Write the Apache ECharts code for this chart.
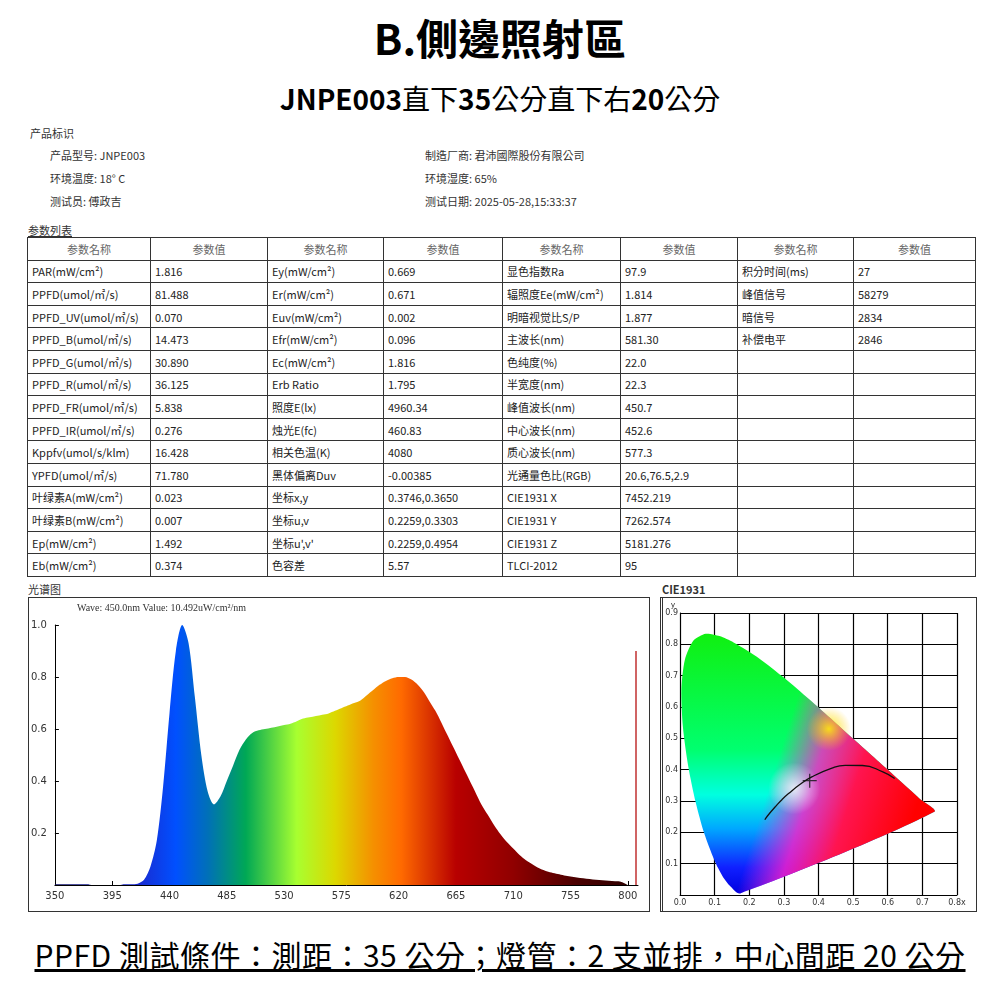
<!DOCTYPE html>
<html><head><meta charset="utf-8">
<script src="https://cdn.jsdelivr.net/npm/echarts@6/dist/echarts.min.js"></script>
<style>
body{margin:0;width:1000px;height:1000px;background:#fff;font-family:"Noto Sans CJK TC","Noto Sans",sans-serif;position:relative;overflow:hidden}
.a{position:absolute;white-space:nowrap}
.s{font-size:11px;color:#333}
table{position:absolute;left:27px;top:237px;border-collapse:collapse;font-size:11px;color:#222}
td{border:1px solid #333;height:22.6px;padding:0 4px;box-sizing:border-box}
tr.h td{text-align:center;color:#666}
</style></head><body>
<div class="a" style="left:0;width:1000px;top:6px;text-align:center;font-size:42px;font-weight:bold">B.側邊照射區</div>
<div class="a" style="left:0;width:1000px;top:78px;text-align:center;font-size:28px"><b>JNPE003</b>直下<b>35</b>公分直下右<b>20</b>公分</div>
<div class="a s" style="left:30px;top:125px">产品标识</div>
<div class="a s" style="left:50px;top:147px">产品型号: JNPE003</div>
<div class="a s" style="left:50px;top:170px">环境温度: 18° C</div>
<div class="a s" style="left:50px;top:193px">测试员: 傅政吉</div>
<div class="a s" style="left:425px;top:147px">制造厂商: 君沛國際股份有限公司</div>
<div class="a s" style="left:425px;top:170px">环境湿度: 65%</div>
<div class="a s" style="left:425px;top:193px">测试日期: 2025-05-28,15:33:37</div>
<div class="a s" style="left:28px;top:222px;text-decoration:underline">参数列表</div>
<table id="tb"></table>
<div class="a s" style="left:28px;top:581px">光谱图</div>
<div class="a s" style="left:662px;top:581px;font-weight:bold">CIE1931</div>
<div class="a" style="left:28px;top:597px;width:620px;height:313px;border:1px solid #333"></div>
<div class="a" style="left:660px;top:597px;width:313px;height:313px;border:1px solid #333;border-left:3px double #333"></div>
<div id="sp" class="a" style="left:28px;top:597px;width:622px;height:315px"></div>
<div id="cie" class="a" style="left:662px;top:597px;width:313px;height:315px"></div>
<div class="a" style="left:0;width:1000px;top:932px;text-align:center;font-size:30px;letter-spacing:0.5px;text-decoration:underline">PPFD 測試條件：測距：35 公分；燈管：2 支並排，中心間距 20 公分</div>
<script>
var colA = ['PAR(mW/cm²)','PPFD(umol/㎡/s)','PPFD_UV(umol/㎡/s)','PPFD_B(umol/㎡/s)','PPFD_G(umol/㎡/s)','PPFD_R(umol/㎡/s)','PPFD_FR(umol/㎡/s)','PPFD_IR(umol/㎡/s)','Kppfv(umol/s/klm)','YPFD(umol/㎡/s)','叶绿素A(mW/cm²)','叶绿素B(mW/cm²)','Ep(mW/cm²)','Eb(mW/cm²)'];
var valA = ['1.816','81.488','0.070','14.473','30.890','36.125','5.838','0.276','16.428','71.780','0.023','0.007','1.492','0.374'];
var colB = ['Ey(mW/cm²)','Er(mW/cm²)','Euv(mW/cm²)','Efr(mW/cm²)','Ec(mW/cm²)','Erb Ratio','照度E(lx)','烛光E(fc)','相关色温(K)','黑体偏离Duv','坐标x,y','坐标u,v',"坐标u',v'",'色容差'];
var valB = ['0.669','0.671','0.002','0.096','1.816','1.795','4960.34','460.83','4080','-0.00385','0.3746,0.3650','0.2259,0.3303','0.2259,0.4954','5.57'];
var colC = ['显色指数Ra','辐照度Ee(mW/cm²)','明暗视觉比S/P','主波长(nm)','色纯度(%)','半宽度(nm)','峰值波长(nm)','中心波长(nm)','质心波长(nm)','光通量色比(RGB)','CIE1931 X','CIE1931 Y','CIE1931 Z','TLCI-2012'];
var valC = ['97.9','1.814','1.877','581.30','22.0','22.3','450.7','452.6','577.3','20.6,76.5,2.9','7452.219','7262.574','5181.276','95'];
var colD = ['积分时间(ms)','峰值信号','暗信号','补偿电平'];
var valD = ['27','58279','2834','2846'];

var html = '<tr class="h">' + '<td style="width:123px">参数名称</td><td style="width:117px">参数值</td><td style="width:116px">参数名称</td><td style="width:119px">参数值</td><td style="width:118px">参数名称</td><td style="width:117px">参数值</td><td style="width:116px">参数名称</td><td style="width:122px">参数值</td></tr>';
for (var i = 0; i < colA.length; i++) {
  html += '<tr><td>' + colA[i] + '</td><td>' + valA[i] + '</td><td>' + colB[i] + '</td><td>' + valB[i] + '</td><td>' + colC[i] + '</td><td>' + valC[i] + '</td><td>' + (colD[i] || '') + '</td><td>' + (valD[i] || '') + '</td></tr>';
}
document.getElementById('tb').innerHTML = html;

// spectrum, 350..800 nm every 5 nm
var waves = [];
for (var w = 350; w <= 800; w += 5) waves.push(w);
var rel = [0.003,0.003,0.003,0.003,0.003,0.003,0,0,0,0,0,0.003,0.003,0.005,0.02,0.07,0.17,0.38,0.66,0.9,
  1.0,0.93,0.72,0.5,0.36,0.31,0.34,0.40,0.46,0.52,0.56,0.585,0.595,0.60,0.605,0.61,0.615,0.62,0.63,0.64,
  0.645,0.65,0.655,0.66,0.67,0.68,0.69,0.70,0.71,0.73,0.75,0.77,0.785,0.795,0.80,0.80,0.79,0.77,0.74,0.70,
  0.66,0.61,0.56,0.51,0.46,0.41,0.36,0.31,0.27,0.23,0.195,0.165,0.14,0.115,0.095,0.08,0.065,0.055,0.048,0.042,
  0.037,0.033,0.029,0.026,0.023,0.02,0.018,0.016,0.014,0.012,0.0];
var xTicks = [350,395,440,485,530,575,620,665,710,755,800];
var yTicks = [0.2,0.4,0.6,0.8,1.0];

var sp = echarts.init(document.getElementById('sp'));
var fnt = {fontFamily:'DejaVu Sans', fontSize:10, color:'#333'};
function off(nm){ return (nm - 350) / 450; }
sp.setOption({
  animation:false,
  title:{text:'Wave: 450.0nm Value: 10.492uW/cm²/nm', left:44, top:1, textStyle:{fontFamily:'Liberation Serif', fontSize:10, fontWeight:'normal', color:'#333'}},
  grid:{left:22, right:12, top:28, bottom:27},
  xAxis:{type:'value', min:350, max:808,
    axisLine:{lineStyle:{color:'#000'}}, splitLine:{show:false},
    axisTick:{customValues:xTicks, length:4, inside:true, lineStyle:{color:'#000'}},
    axisLabel:Object.assign({customValues:xTicks, margin:6}, fnt)},
  yAxis:{type:'value', min:0, max:1,
    axisLine:{show:true, lineStyle:{color:'#000'}}, splitLine:{show:false},
    axisTick:{show:true, customValues:yTicks, length:4, inside:true, lineStyle:{color:'#000'}},
    axisLabel:Object.assign({customValues:yTicks, formatter:function(v){return v.toFixed(1);}, margin:8}, fnt)},
  series:[{type:'line', data:waves.map(function(w,i){return [w, rel[i]];}), showSymbol:false, smooth:0.3,
    lineStyle:{width:0},
    areaStyle:{opacity:1, color:new echarts.graphic.LinearGradient(0,0,1,0,[
      {offset:0,color:'#101060'},{offset:off(415),color:'#1a2ad0'},{offset:off(445),color:'#0050ff'},
      {offset:off(470),color:'#0070b8'},{offset:off(500),color:'#00a855'},{offset:off(540),color:'#a8ff30'},
      {offset:off(570),color:'#dcd800'},{offset:off(600),color:'#f59000'},{offset:off(622),color:'#ff6a00'},
      {offset:off(665),color:'#b80000'},{offset:off(710),color:'#900000'},{offset:off(760),color:'#4a0000'},
      {offset:1,color:'#300000'}])},
    markLine:{symbol:'none', silent:true, label:{show:false}, lineStyle:{color:'#c03030', type:'solid', width:1.5},
      data:[[{coord:[806,0]},{coord:[806,0.9]}]]}}]
});

// CIE 1931 spectral locus and Planckian locus
var locusX = [0.1741,0.1440,0.1241,0.1096,0.0913,0.0687,0.0454,0.0235,0.0082,0.0039,0.0139,0.0389,0.0743,0.1142,0.1547,0.2296,0.3016,0.3731,0.4441,0.5125,0.5752,0.6270,0.6915,0.7347];
var locusY = [0.0050,0.0297,0.0578,0.0868,0.1327,0.2007,0.2950,0.4127,0.5384,0.6548,0.7502,0.8120,0.8338,0.8262,0.8059,0.7543,0.6923,0.6245,0.5547,0.4866,0.4242,0.3725,0.3083,0.2653];
var planckX = [0.245,0.2525,0.2807,0.2950,0.3135,0.3451,0.3805,0.4369,0.4770,0.5267,0.5857,0.6200];
var planckY = [0.240,0.2522,0.2884,0.3050,0.3236,0.3516,0.3768,0.4041,0.4137,0.4133,0.3931,0.3720];
var pointXY = [0.3746, 0.3650];

var cie = echarts.init(document.getElementById('cie'));
var locus = locusX.map(function(x,i){return [x, locusY[i]];});
function poly(fill){
  return function(params, api){
    var pts = locus.map(function(p){return api.coord(p);});
    return {type:'polygon', shape:{points:pts, smooth:0.25}, style:{fill:fill}};
  };
}
function glow(x, y, r, c0, c1){
  return function(params, api){
    var c = api.coord([x, y]);
    return {type:'circle', shape:{cx:c[0], cy:c[1], r:r}, style:{fill:new echarts.graphic.RadialGradient(0.5,0.5,0.5,[{offset:0,color:c0},{offset:1,color:c1}])}};
  };
}
cie.setOption({
  animation:false,
  grid:{left:18, right:18, top:16, bottom:17},
  xAxis:{type:'value', min:0, max:0.8, interval:0.1,
    axisLine:{lineStyle:{color:'#000'}}, axisTick:{show:false},
    splitLine:{lineStyle:{color:'#000', width:1.2}},
    axisLabel:{fontFamily:'DejaVu Sans', fontSize:8, color:'#333', margin:4,
      formatter:function(v){return v.toFixed(1) + (v > 0.79 ? 'x' : '');}}},
  yAxis:{type:'value', min:0, max:0.9, interval:0.1, name:'y', nameGap:-2,
    nameTextStyle:{fontSize:8, color:'#333', padding:[0,0,0,-14]},
    axisLine:{show:true, lineStyle:{color:'#000'}}, axisTick:{show:false},
    splitLine:{lineStyle:{color:'#000', width:1.2}},
    axisLabel:{fontFamily:'DejaVu Sans', fontSize:8, color:'#333', margin:2,
      formatter:function(v){return v === 0 ? '' : v.toFixed(1);}}},
  series:[
    {type:'custom', z:1, data:[0], renderItem:poly(new echarts.graphic.LinearGradient(0,0,0,1,[
      {offset:0,color:'#10f010'},{offset:0.45,color:'#00ff70'},{offset:0.62,color:'#00ffe0'},
      {offset:0.75,color:'#00a8ff'},{offset:0.9,color:'#1020ff'},{offset:1,color:'#0000e0'}]))},
    {type:'custom', z:2, data:[0], renderItem:poly(new echarts.graphic.LinearGradient(0.3,0.4,0.95,0.6,[
      {offset:0,color:'rgba(255,40,220,0)'},{offset:0.15,color:'rgba(255,40,220,0)'},{offset:0.38,color:'rgba(255,30,200,0.8)'},
      {offset:0.62,color:'rgba(255,20,80,1)'},{offset:1,color:'rgba(255,0,0,1)'}]))},
    {type:'custom', z:3, data:[0], renderItem:glow(0.43, 0.53, 22, 'rgba(255,245,0,0.85)', 'rgba(255,200,0,0)')},
    {type:'custom', z:3, data:[0], renderItem:glow(0.33, 0.34, 26, 'rgba(255,255,255,0.8)', 'rgba(255,255,255,0)')},
    {type:'line', z:5, data:planckX.map(function(x,i){return [x, planckY[i]];}), smooth:true, showSymbol:false,
      lineStyle:{color:'#111', width:1.3}},
    {type:'scatter', z:6, data:[pointXY], symbol:'path://M0,-10L0,10M-10,0L10,0', symbolSize:14,
      itemStyle:{color:'none', borderColor:'#111', borderWidth:1.3}}
  ]
});
</script>
</body></html>
